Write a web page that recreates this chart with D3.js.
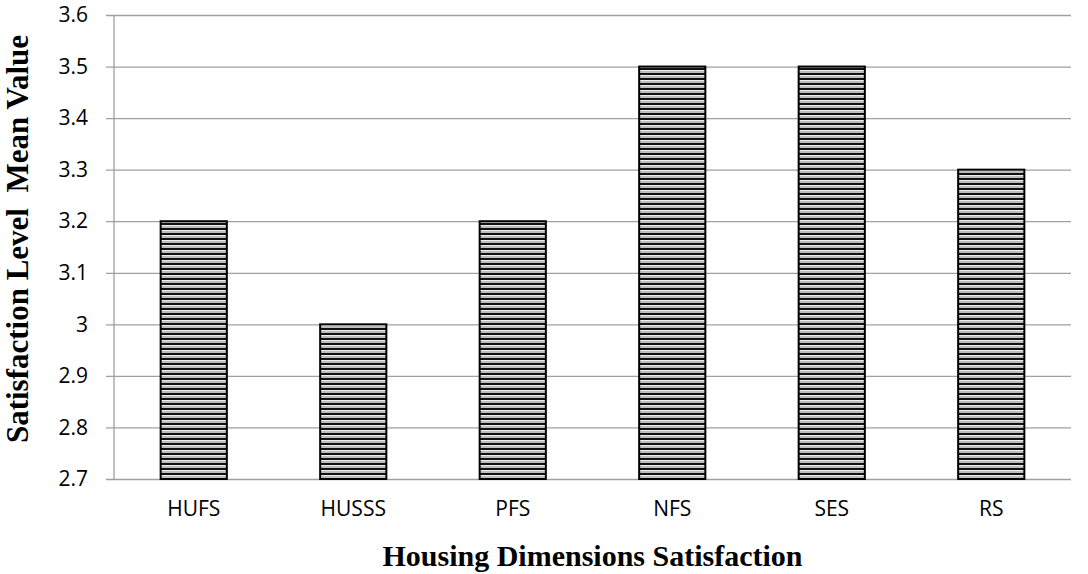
<!DOCTYPE html>
<html>
<head>
<meta charset="utf-8">
<script src="https://cdn.jsdelivr.net/npm/d3@7"></script>
<style>
  html, body { margin: 0; padding: 0; background: #fff; }
  svg { display: block; }
</style>
</head>
<body>
<svg id="chart" width="1088" height="574"></svg>
<script>
// Mean satisfaction per housing dimension
const categories = ["HUFS", "HUSSS", "PFS", "NFS", "SES", "RS"];
const meanValues = [3.2, 3.0, 3.2, 3.5, 3.5, 3.3];
const yTicks = [2.7, 2.8, 2.9, 3.0, 3.1, 3.2, 3.3, 3.4, 3.5, 3.6];
const xTitle = "Housing Dimensions Satisfaction";
const yTitle = "Satisfaction Level  Mean Value";

const svg = d3.select("#chart");
const margin = { left: 114, right: 17, top: 15, bottom: 95 };
const W = 1088, H = 574;
const labelFont = "'Open Sans', 'Liberation Sans', sans-serif";
const titleFont = "'Liberation Serif', 'Times New Roman', serif";

const x = d3.scaleBand()
  .domain(categories)
  .range([margin.left, W - margin.right])
  .paddingInner(0.585)
  .paddingOuter(0.2925);

const y = d3.scaleLinear()
  .domain([2.7, 3.6])
  .range([H - margin.bottom, margin.top]);

// Horizontal stripe fill for the bars
const defs = svg.append("defs");
const pat = defs.append("pattern")
  .attr("id", "stripes")
  .attr("patternUnits", "userSpaceOnUse")
  .attr("width", 8).attr("height", 5);
pat.append("rect").attr("width", 8).attr("height", 5).attr("fill", "#bdbdbd");
pat.append("rect").attr("y", 0).attr("width", 8).attr("height", 1).attr("fill", "#ececec");
pat.append("rect").attr("y", 3).attr("width", 8).attr("height", 2).attr("fill", "#111");

// Gridlines with short tick stubs on the left
const plotW = W - margin.right - margin.left;
const yAxis = d3.axisLeft(y)
  .tickValues(yTicks)
  .tickFormat(d => d3.format("")(+d.toFixed(1)));

const gy = svg.append("g")
  .attr("transform", `translate(${W - margin.right},0)`)
  .call(yAxis);
gy.select(".domain").remove();
gy.selectAll(".tick line")
  .attr("x1", 0)
  .attr("x2", -plotW - 8)
  .attr("stroke", "#a0a0a0")
  .attr("stroke-width", 1.3);
gy.selectAll(".tick text")
  .attr("x", -plotW - 26)
  .attr("font-family", labelFont)
  .attr("font-size", 21)
  .attr("fill", "#000");

// Vertical axis line
svg.append("line")
  .attr("x1", margin.left).attr("x2", margin.left)
  .attr("y1", y(3.6)).attr("y2", y(2.7))
  .attr("stroke", "#a0a0a0").attr("stroke-width", 1.3);

// Bars
svg.append("g").selectAll("rect")
  .data(categories)
  .join("rect")
  .attr("x", d => x(d))
  .attr("width", x.bandwidth())
  .attr("y", (d, i) => y(meanValues[i]))
  .attr("height", (d, i) => y(2.7) - y(meanValues[i]))
  .attr("fill", "url(#stripes)")
  .attr("stroke", "#000")
  .attr("stroke-width", 2);

// Category labels
const xAxis = d3.axisBottom(x).tickSize(0).tickPadding(22);
const gx = svg.append("g")
  .attr("transform", `translate(0,${y(2.7)})`)
  .call(xAxis);
gx.select(".domain").remove();
gx.selectAll(".tick text")
  .attr("font-family", labelFont)
  .attr("font-size", 21)
  .attr("fill", "#000");

// Axis titles
svg.append("text")
  .attr("x", (margin.left + W - margin.right) / 2)
  .attr("y", 566)
  .attr("text-anchor", "middle")
  .attr("font-family", titleFont)
  .attr("font-weight", "bold")
  .attr("font-size", 30)
  .text(xTitle);

svg.append("text")
  .attr("transform", "translate(28,239) rotate(-90)")
  .attr("text-anchor", "middle")
  .attr("font-family", titleFont)
  .attr("font-weight", "bold")
  .attr("font-size", 31)
  .style("white-space", "pre")
  .text(yTitle);
</script>
</body>
</html>
